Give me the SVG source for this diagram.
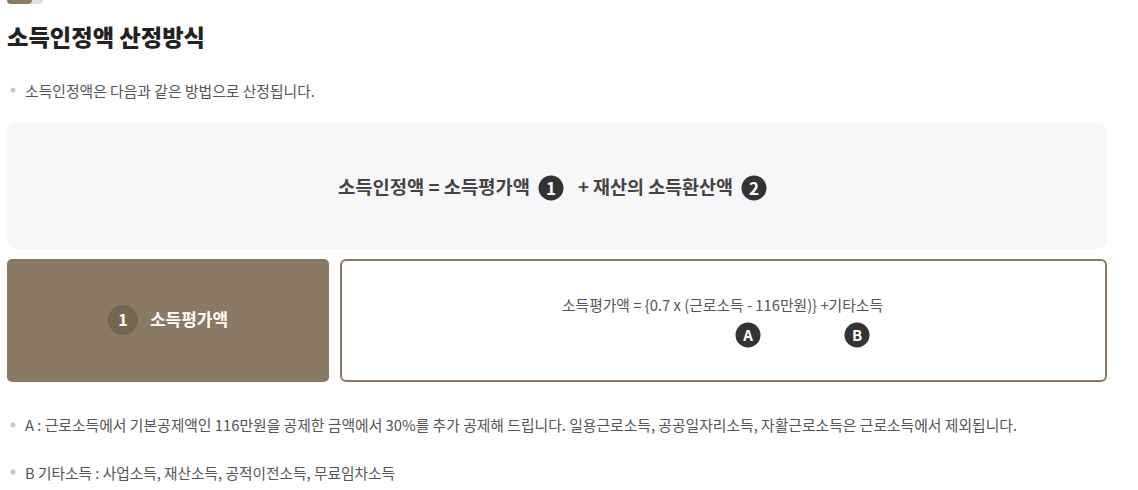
<svg xmlns="http://www.w3.org/2000/svg" width="1138" height="490" viewBox="0 0 1138 490">
<style>
text{font-family:"Noto Sans CJK KR","Noto Sans",sans-serif}
.title{font-size:23px;font-weight:800;fill:#222}
.body{font-size:15px;fill:#555}
.dot{fill:#c8c8c8}
.eq{font-size:18px;font-weight:700;fill:#444}
.badge{fill:#333}
.bt{font-weight:700;fill:#fff;text-anchor:middle}
</style>
<rect width="1138" height="490" fill="#fff"/>
<g id="tab">
<rect x="7" y="-4" width="36" height="8" rx="4" fill="#e8e2d9"/>
<rect x="7" y="-4" width="25" height="8" rx="4" fill="#8a7a64"/>
</g>
<text id="title" class="title" x="7" y="46" textLength="198" lengthAdjust="spacingAndGlyphs">소득인정액 산정방식</text>
<g id="intro">
<circle class="dot" cx="13" cy="90" r="2.5"/>
<text class="body" x="25" y="97" textLength="290" lengthAdjust="spacingAndGlyphs">소득인정액은 다음과 같은 방법으로 산정됩니다.</text>
</g>
<g id="formula-box">
<rect x="7" y="123" width="1100" height="126" rx="9" fill="#f7f7f9"/>
<text class="eq" x="338" y="194" textLength="192" lengthAdjust="spacingAndGlyphs">소득인정액 = 소득평가액</text>
<circle class="badge" cx="551" cy="188" r="12.5"/>
<text class="bt" x="551" y="194.5" font-size="17">1</text>
<text class="eq" x="578" y="194" textLength="155" lengthAdjust="spacingAndGlyphs">+ 재산의 소득환산액</text>
<circle class="badge" cx="754" cy="188" r="12.5"/>
<text class="bt" x="754" y="194.5" font-size="17">2</text>
</g>
<g id="label-box">
<rect x="7" y="259" width="322" height="123" rx="5" fill="#8a7a64"/>
<circle cx="123" cy="320" r="15" fill="#76664f"/>
<text class="bt" x="123" y="326" font-size="16" font-weight="400">1</text>
<text x="150" y="326" font-size="17" font-weight="700" fill="#fff" textLength="78" lengthAdjust="spacingAndGlyphs">소득평가액</text>
</g>
<g id="detail-box">
<rect x="341" y="260" width="765" height="121" rx="5" fill="#fff" stroke="#8a7a64" stroke-width="2"/>
<text class="body" x="562" y="311" textLength="321" lengthAdjust="spacingAndGlyphs">소득평가액 = {0.7 x (근로소득 - 116만원)} +기타소득</text>
<circle class="badge" cx="748" cy="335" r="12.5"/>
<text class="bt" x="748" y="340.5" font-size="15">A</text>
<circle class="badge" cx="857" cy="335" r="12.5"/>
<text class="bt" x="857" y="340.5" font-size="15">B</text>
</g>
<g id="note-a">
<circle class="dot" cx="13" cy="425" r="2.5"/>
<text class="body" x="25" y="431" textLength="992" lengthAdjust="spacingAndGlyphs">A : 근로소득에서 기본공제액인 116만원을 공제한 금액에서 30%를 추가 공제해 드립니다. 일용근로소득, 공공일자리소득, 자활근로소득은 근로소득에서 제외됩니다.</text>
</g>
<g id="note-b">
<circle class="dot" cx="13" cy="472" r="2.5"/>
<text class="body" x="25" y="479" textLength="370" lengthAdjust="spacingAndGlyphs">B 기타소득 : 사업소득, 재산소득, 공적이전소득, 무료임차소득</text>
</g>
<g id="connectors"></g>
</svg>
